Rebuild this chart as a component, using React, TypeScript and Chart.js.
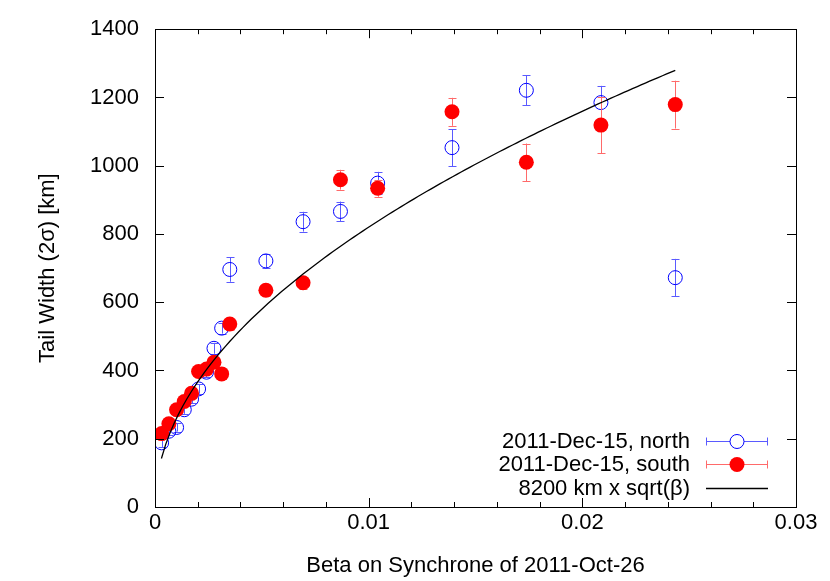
import React, { useEffect, useRef } from 'react';
import { Chart, registerables } from 'chart.js';

Chart.register(...registerables);

// ---- data ----
const betaValues = [0.00031, 0.00065, 0.00101, 0.00137, 0.00171, 0.00204, 0.00241, 0.00276, 0.00312, 0.0035, 0.00519, 0.00693, 0.00868, 0.01042, 0.0139, 0.01738, 0.02087, 0.02435];
const northWidth = [188, 222, 233, 285, 316, 346, 395, 465, 524, 696, 721, 836, 866, 949, 1053, 1221, 1185, 672];
const northErr = [12, 10, 12, 12, 12, 14, 14, 16, 16, 36, 20, 29, 29, 33, 54, 44, 49, 55];
const southWidth = [215, 244, 285, 309, 333, 397, 404, 424, 390, 536, 635, 657, 959, 934, 1158, 1010, 1119, 1179];
const southErr = [10, 10, 10, 12, 12, 12, 14, 14, 14, 16, 18, 18, 29, 25, 41, 55, 82, 70];

// fit curve: 8200 km x sqrt(beta), drawn over the beta range of the data
const fitCoefficient = 8200;
const fitBetaStart = 0.0003;
const fitBetaEnd = 0.02435;
const fitSamples = 120;

const xTickValues = [0, 0.01, 0.02, 0.03];
const xTickLabels = ['0', '0.01', '0.02', '0.03'];
const yTickValues = [0, 200, 400, 600, 800, 1000, 1200, 1400];

const seriesLabels = ['2011-Dec-15, north', '2011-Dec-15, south', '8200 km x sqrt(\u03B2)'];

const FONT = "'Liberation Sans', Arial, Helvetica, sans-serif";

const fitPoints = Array.from({ length: fitSamples + 1 }, (_, i) => {
  const b = fitBetaStart + ((fitBetaEnd - fitBetaStart) * i) / fitSamples;
  return { x: b, y: fitCoefficient * Math.sqrt(b) };
});

const errorBarsPlugin = {
  id: 'errorBars',
  beforeDatasetDraw(chart: any, args: any) {
    const ds = chart.data.datasets[args.index];
    if (!ds.errors) return;
    const { ctx, scales } = chart;
    const xs = scales.x, ys = scales.y;
    ctx.save();
    ctx.strokeStyle = ds.errorColor;
    ctx.lineWidth = 1;
    ctx.beginPath();
    ds.data.forEach((p: any, i: number) => {
      const e = ds.errors[i];
      const px = Math.round(xs.getPixelForValue(p.x)) + 0.5;
      const y1 = ys.getPixelForValue(p.y - e);
      const y2 = ys.getPixelForValue(p.y + e);
      ctx.moveTo(px, y1); ctx.lineTo(px, y2);
      ctx.moveTo(px - 4, Math.round(y1) + 0.5); ctx.lineTo(px + 4, Math.round(y1) + 0.5);
      ctx.moveTo(px - 4, Math.round(y2) + 0.5); ctx.lineTo(px + 4, Math.round(y2) + 0.5);
    });
    ctx.stroke();
    ctx.restore();
  },
};

const framePlugin = {
  id: 'frameTicks',
  afterDatasetsDraw(chart: any) {
    const { ctx, chartArea, scales } = chart;
    const { left, right, top, bottom } = chartArea;
    ctx.save();
    ctx.strokeStyle = '#000';
    ctx.lineWidth = 1;
    ctx.beginPath();
    for (let i = 0; i <= 15; i++) {
      const v = i * 0.002;
      const len = i % 5 === 0 ? 9 : 5;
      const px = Math.round(scales.x.getPixelForValue(v)) + 0.5;
      ctx.moveTo(px, bottom); ctx.lineTo(px, bottom - len);
      ctx.moveTo(px, top); ctx.lineTo(px, top + len);
    }
    yTickValues.forEach((v) => {
      const py = Math.round(scales.y.getPixelForValue(v)) + 0.5;
      ctx.moveTo(left, py); ctx.lineTo(left + 9, py);
      ctx.moveTo(right, py); ctx.lineTo(right - 9, py);
    });
    ctx.stroke();
    ctx.strokeRect(Math.round(left) + 0.5, Math.round(top) + 0.5, Math.round(right - left), Math.round(bottom - top));
    ctx.restore();
  },
};

const legendPlugin = {
  id: 'customLegend',
  afterDraw(chart: any) {
    const { ctx } = chart;
    const textRight = 690;
    const x1 = 706, x2 = 768, xm = 737;
    const rows = [441, 464, 488];
    ctx.save();
    ctx.font = `22px ${FONT}`;
    ctx.fillStyle = '#000';
    ctx.textAlign = 'right';
    ctx.textBaseline = 'middle';
    seriesLabels.forEach((t, i) => ctx.fillText(t, textRight, rows[i] + 1));
    const drawBar = (y: number, color: string) => {
      const yy = Math.round(y) + 0.5;
      ctx.strokeStyle = color;
      ctx.lineWidth = 1;
      ctx.beginPath();
      ctx.moveTo(x1, yy); ctx.lineTo(x2, yy);
      ctx.moveTo(x1 + 0.5, yy - 4); ctx.lineTo(x1 + 0.5, yy + 4);
      ctx.moveTo(x2 - 0.5, yy - 4); ctx.lineTo(x2 - 0.5, yy + 4);
      ctx.stroke();
    };
    drawBar(rows[0], '#5a5aff');
    ctx.fillStyle = '#fff';
    ctx.strokeStyle = '#0000ff';
    ctx.beginPath(); ctx.arc(xm, rows[0] + 0.5, 7, 0, Math.PI * 2); ctx.fill(); ctx.stroke();
    drawBar(rows[1], '#ff6a6a');
    ctx.fillStyle = '#ff0000';
    ctx.beginPath(); ctx.arc(xm, rows[1] + 0.5, 7.5, 0, Math.PI * 2); ctx.fill();
    ctx.strokeStyle = '#000';
    ctx.lineWidth = 1.3;
    ctx.beginPath(); ctx.moveTo(x1, rows[2] + 0.5); ctx.lineTo(x2, rows[2] + 0.5); ctx.stroke();
    ctx.restore();
  },
};

export default function App() {
  const ref = useRef<HTMLCanvasElement | null>(null);
  useEffect(() => {
    if (!ref.current) return;
    Chart.defaults.color = '#000';
    const chart = new Chart(ref.current, {
      type: 'scatter',
      data: {
        datasets: [
          {
            label: seriesLabels[0],
            data: betaValues.map((b, i) => ({ x: b, y: northWidth[i] })),
            errors: northErr,
            errorColor: '#5a5aff',
            pointStyle: 'circle',
            pointRadius: 7,
            pointBorderWidth: 1,
            pointBorderColor: '#0000ff',
            pointBackgroundColor: 'rgba(255,255,255,0)',
            order: 3,
          } as any,
          {
            label: seriesLabels[1],
            data: betaValues.map((b, i) => ({ x: b, y: southWidth[i] })),
            errors: southErr,
            errorColor: '#ff6a6a',
            pointStyle: 'circle',
            pointRadius: 7.5,
            pointBorderWidth: 0,
            pointBorderColor: '#ff0000',
            pointBackgroundColor: '#ff0000',
            order: 2,
          } as any,
          {
            label: seriesLabels[2],
            data: fitPoints,
            showLine: true,
            pointRadius: 0,
            borderColor: '#000',
            borderWidth: 1.3,
            tension: 0,
            order: 1,
          } as any,
        ],
      },
      options: {
        responsive: false,
        animation: false,
        events: [],
        layout: { padding: { top: 27, right: 34, left: 0, bottom: 0 } },
        plugins: { legend: { display: false }, tooltip: { enabled: false } },
        scales: {
          x: {
            type: 'linear',
            min: 0,
            max: 0.03,
            afterFit: (s: any) => { s.height = 74; },
            afterBuildTicks: (s: any) => { s.ticks = xTickValues.map((v) => ({ value: v })); },
            ticks: {
              font: { family: FONT, size: 22 },
              padding: 3,
              maxRotation: 0,
              callback: (v: any) => {
                const idx = xTickValues.findIndex((t) => Math.abs(t - Number(v)) < 1e-9);
                return idx >= 0 ? xTickLabels[idx] : '';
              },
            },
            grid: { display: false, drawTicks: false },
            border: { display: false },
            title: {
              display: true,
              text: 'Beta on Synchrone of 2011-Oct-26',
              font: { family: FONT, size: 22 },
              padding: { top: 0, bottom: 2 },
            },
          },
          y: {
            type: 'linear',
            min: 0,
            max: 1400,
            afterFit: (s: any) => { s.width = 155; },
            afterBuildTicks: (s: any) => { s.ticks = yTickValues.map((v) => ({ value: v })); },
            ticks: {
              font: { family: FONT, size: 22 },
              padding: 16,
              callback: (v: any) => String(v),
            },
            grid: { display: false, drawTicks: false },
            border: { display: false },
            title: {
              display: true,
              text: 'Tail Width (2\u03C3) [km]',
              font: { family: FONT, size: 22 },
              padding: { top: 35, bottom: 0 },
            },
          },
        },
      },
      plugins: [errorBarsPlugin, framePlugin, legendPlugin],
    } as any);
    return () => chart.destroy();
  }, []);
  return (
    <div style={{ position: 'absolute', left: 0, top: 0, width: 830, height: 581, background: '#fff' }}>
      <canvas ref={ref} width={830} height={581} style={{ display: 'block' }} />
    </div>
  );
}
